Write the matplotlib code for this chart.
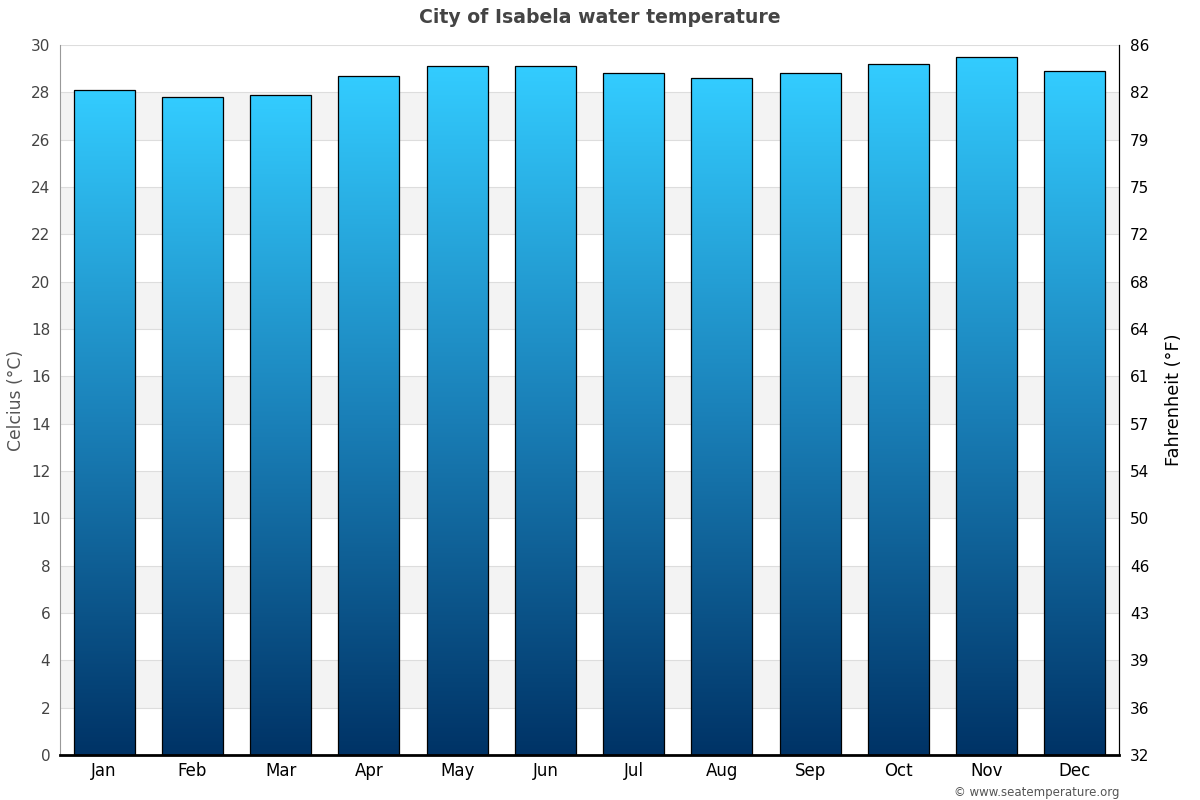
import numpy as np
import matplotlib
matplotlib.use("Agg")
import matplotlib.pyplot as plt
from matplotlib.colors import LinearSegmentedColormap

months = ['Jan', 'Feb', 'Mar', 'Apr', 'May', 'Jun',
          'Jul', 'Aug', 'Sep', 'Oct', 'Nov', 'Dec']
water_temp_c = [28.1, 27.8, 27.9, 28.7, 29.1, 29.1,
                28.8, 28.6, 28.8, 29.2, 29.5, 28.9]
c_ticks = list(range(0, 31, 2))

plt.rcParams['font.family'] = ['DejaVu Sans']

fig = plt.figure(figsize=(12, 8), dpi=100)
ax = fig.add_axes([0.05, 0.05625, 0.8825, 0.8875])

# alternating bands + grid
for lo in range(2, 30, 4):
    ax.axhspan(lo, lo + 2, color='#f3f3f3', zorder=0, lw=0)
for t in c_ticks:
    ax.axhline(t, color='#dddddd', lw=0.8, zorder=0.5)

x = np.arange(len(months))
bars = ax.bar(x, water_temp_c, width=0.69, facecolor='none',
              edgecolor='black', linewidth=0.9, zorder=3)

# vertical gradient inside each bar
cmap = LinearSegmentedColormap.from_list('sea', ['#003366', '#1a80b8', '#33ccff'])
grad = np.linspace(0, 1, 256).reshape(-1, 1)
for b in bars:
    im = ax.imshow(grad, cmap=cmap, origin='lower', aspect='auto',
                   extent=(b.get_x(), b.get_x() + b.get_width(), 0, b.get_height()),
                   zorder=2)
    im.set_clip_path(b)

ax.set_xlim(-0.5, len(months) - 0.5)
ax.set_ylim(0, 30)
ax.set_xticks(x)
ax.set_xticklabels(months, fontsize=12, color='black')
ax.set_yticks(c_ticks)
ax.tick_params(axis='y', labelsize=11, labelcolor='#444444', length=0, pad=7)
ax.tick_params(axis='x', length=0, pad=5)
ax.set_ylabel('Celcius (°C)', fontsize=12.3, color='#555555', labelpad=4)

ax.spines['top'].set_visible(False)
ax.spines['left'].set_color('#999999')
ax.spines['bottom'].set_color('black')
ax.spines['bottom'].set_linewidth(2)
ax.spines['right'].set_color('black')

# Fahrenheit axis
ax2 = ax.twinx()
ax2.set_ylim(0, 30)
ax2.set_yticks(c_ticks)
ax2.set_yticklabels([str(int(round(c * 9 / 5 + 32))) for c in c_ticks])
ax2.tick_params(axis='y', labelsize=11, labelcolor='black', length=0, pad=8)
ax2.set_ylabel('Fahrenheit (°F)', fontsize=12.8, color='black', labelpad=11)
for s in ['top', 'left', 'bottom']:
    ax2.spines[s].set_visible(False)
ax2.spines['right'].set_color('black')

fig.text(0.5, 0.978, 'City of Isabela water temperature', ha='center', va='center',
         fontsize=13.6, fontweight='bold', color='#444444')
fig.text(0.9325, 0.0015, '© www.seatemperature.org', ha='right', va='bottom',
         fontsize=8.5, color='#555555')

fig.savefig('out.png', dpi=100)
